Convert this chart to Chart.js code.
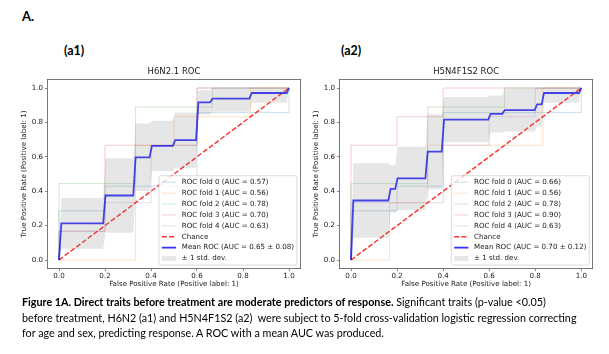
<!DOCTYPE html>
<html><head><meta charset="utf-8">
<script src="https://cdn.jsdelivr.net/npm/chart.js@4/dist/chart.umd.min.js"></script>
<style>
html,body{margin:0;padding:0;background:#fff;}
body{width:609px;height:354px;position:relative;overflow:hidden;font-family:Lato,'Open Sans',sans-serif;color:#000;}
.lbl{position:absolute;white-space:nowrap;font-weight:bold;line-height:1;}
.cap{position:absolute;left:22px;white-space:nowrap;line-height:1.2;font-size:10px;}
canvas{position:absolute;top:0;}
#c1{left:0;}
#c2{left:304px;}
</style></head><body>
<div class="lbl" style="left:22px;top:10px;font-size:13px">A.</div>
<div class="lbl" style="left:64px;top:45px;font-size:12.5px">(a1)</div>
<div class="lbl" style="left:341px;top:45px;font-size:12.5px">(a2)</div>
<canvas id="c1" width="304" height="300"></canvas>
<canvas id="c2" width="305" height="300"></canvas>
<div id="cap1" class="cap"><b>Figure 1A. Direct traits before treatment are moderate predictors of response.</b> Significant traits (p-value &lt;0.05)</div>
<div id="cap2" class="cap">before treatment, H6N2 (a1) and H5N4F1S2 (a2)&nbsp; were subject to 5-fold cross-validation logistic regression correcting</div>
<div id="cap3" class="cap">for age and sex, predicting response. A ROC with a mean AUC was produced.</div>
<script>
// ---------------- DATA ----------------
const tickValues = [0, 0.2, 0.4, 0.6, 0.8, 1.0];
const chanceFpr = [0, 1];
const chanceTpr = [0, 1];

// Panel (a1) H6N2.1
const a1Title = 'H6N2.1 ROC';
const a1FoldAuc = [0.57, 0.56, 0.78, 0.70, 0.63];
const a1Fold0Fpr = [0, 0, 0.2, 0.2, 0.6, 0.6, 1, 1];
const a1Fold0Tpr = [0, 0.286, 0.286, 0.429, 0.429, 0.857, 0.857, 1];
const a1Fold1Fpr = [0, 0.333, 0.333, 0.5, 0.5, 0.833, 0.833, 1];
const a1Fold1Tpr = [0, 0, 0.667, 0.667, 0.833, 0.833, 1, 1];
const a1Fold2Fpr = [0, 0, 0.333, 0.333, 0.667, 0.667, 1];
const a1Fold2Tpr = [0, 0.444, 0.444, 0.889, 0.889, 1, 1];
const a1Fold3Fpr = [0, 0, 0.2, 0.2, 0.6, 0.6, 1];
const a1Fold3Tpr = [0, 0.167, 0.167, 0.667, 0.667, 1, 1];
const a1Fold4Fpr = [0, 0, 0.2, 0.2, 0.4, 0.4, 0.6, 0.6, 1];
const a1Fold4Tpr = [0, 0.167, 0.167, 0.333, 0.333, 0.667, 0.667, 1, 1];
const a1MeanFpr = [0, 0.0101, 0.192, 0.202, 0.323, 0.333, 0.394, 0.404, 0.495, 0.505, 0.596, 0.606, 0.657, 0.667, 0.828, 0.838, 0.99, 1];
const a1MeanTpr = [0, 0.213, 0.213, 0.375, 0.375, 0.597, 0.597, 0.664, 0.664, 0.697, 0.697, 0.916, 0.916, 0.938, 0.938, 0.971, 0.971, 1];
const a1StdUpper = [0, 0.360, 0.360, 0.592, 0.592, 0.793, 0.793, 0.809, 0.809, 0.858, 0.858, 0.987, 0.987, 1, 1, 1, 1, 1];
const a1StdLower = [0, 0.066, 0.066, 0.158, 0.158, 0.401, 0.401, 0.518, 0.518, 0.536, 0.536, 0.845, 0.845, 0.862, 0.862, 0.914, 0.914, 1];
const a1MeanAuc = '0.65';
const a1StdAuc = '0.08';

// Panel (a2) H5N4F1S2
const a2Title = 'H5N4F1S2 ROC';
const a2FoldAuc = [0.66, 0.56, 0.78, 0.90, 0.63];
const a2Fold0Fpr = [0, 0, 0.2, 0.2, 0.4, 0.4, 1, 1];
const a2Fold0Tpr = [0, 0.286, 0.286, 0.429, 0.429, 0.857, 0.857, 1];
const a2Fold1Fpr = [0, 0.167, 0.167, 0.333, 0.333, 0.833, 0.833, 1];
const a2Fold1Tpr = [0, 0, 0.333, 0.333, 0.667, 0.667, 1, 1];
const a2Fold2Fpr = [0, 0, 0.333, 0.333, 0.667, 0.667, 1];
const a2Fold2Tpr = [0, 0.444, 0.444, 0.889, 0.889, 1, 1];
const a2Fold3Fpr = [0, 0, 0.2, 0.2, 0.4, 0.4, 1];
const a2Fold3Tpr = [0, 0.667, 0.667, 0.833, 0.833, 1, 1];
const a2Fold4Fpr = [0, 0, 0.4, 0.4, 0.6, 0.6, 0.8, 0.8, 1];
const a2Fold4Tpr = [0, 0.333, 0.333, 0.667, 0.667, 0.833, 0.833, 1, 1];
const a2MeanFpr = [0, 0.0101, 0.162, 0.172, 0.192, 0.202, 0.323, 0.333, 0.394, 0.404, 0.596, 0.606, 0.657, 0.667, 0.798, 0.808, 0.828, 0.838, 0.99, 1];
const a2MeanTpr = [0, 0.346, 0.346, 0.413, 0.413, 0.474, 0.474, 0.630, 0.630, 0.816, 0.816, 0.849, 0.849, 0.871, 0.871, 0.905, 0.905, 0.971, 0.971, 1];
const a2StdUpper = [0, 0.563, 0.563, 0.550, 0.550, 0.659, 0.659, 0.848, 0.848, 0.947, 0.947, 0.957, 0.957, 0.995, 0.995, 1, 1, 1, 1, 1];
const a2StdLower = [0, 0.129, 0.129, 0.276, 0.276, 0.289, 0.289, 0.412, 0.412, 0.685, 0.685, 0.742, 0.742, 0.747, 0.747, 0.774, 0.774, 0.914, 0.914, 1];
const a2MeanAuc = '0.70';
const a2StdAuc = '0.12';

// ---------------- RENDER ----------------
const FONT = 'DejaVu Sans';
const FS = 7.1;
const TEXT = '#1a1a1a';
const SPINE = '#555';
const foldColors = ['rgba(31,119,180,0.3)','rgba(255,127,14,0.3)','rgba(44,160,44,0.3)','rgba(214,39,40,0.3)','rgba(148,103,189,0.3)'];

function pts(xs, ys) { return xs.map((x, i) => ({x: x, y: ys[i]})); }

const mplLegend = {
  id: 'mplLegend',
  afterDraw(chart) {
    const ctx = chart.ctx, ca = chart.chartArea;
    const items = chart.data.datasets.filter(d => d.legendOrder != null).sort((a, b) => a.legendOrder - b.legendOrder);
    ctx.save();
    ctx.font = FS + 'px "' + FONT + '"';
    let tw = 0;
    items.forEach(it => { tw = Math.max(tw, ctx.measureText(it.label).width); });
    const pad = 0.4 * FS, hl = 2 * FS, htp = 0.8 * FS, pitch = 10.9;
    const w = pad + hl + htp + tw + pad;
    const h = 2 * pad + items.length * pitch - 0.5 * FS;
    const right = ca.right - 0.5 * FS, bottom = ca.bottom - 0.5 * FS;
    const left = right - w, top = bottom - h;
    ctx.beginPath();
    if (ctx.roundRect) ctx.roundRect(left, top, w, h, 1.5); else ctx.rect(left, top, w, h);
    ctx.fillStyle = 'rgba(255,255,255,0.8)';
    ctx.fill();
    ctx.lineWidth = 0.7;
    ctx.strokeStyle = '#cccccc';
    ctx.stroke();
    items.forEach((it, i) => {
      const cy = top + pad + (pitch - 0.5 * FS) / 2 + i * pitch;
      const hx = left + pad;
      if (it.legendKind === 'patch') {
        ctx.fillStyle = it.backgroundColor;
        ctx.fillRect(hx, cy - 0.35 * FS, hl, 0.7 * FS);
      } else {
        ctx.beginPath();
        ctx.setLineDash(it.borderDash || []);
        ctx.lineWidth = it.borderWidth;
        ctx.strokeStyle = it.borderColor;
        ctx.moveTo(hx, cy); ctx.lineTo(hx + hl, cy);
        ctx.stroke();
        ctx.setLineDash([]);
      }
      ctx.fillStyle = TEXT;
      ctx.textBaseline = 'middle';
      ctx.textAlign = 'left';
      ctx.fillText(it.label, hx + hl + htp, cy);
    });
    ctx.restore();
  }
};

function makeChart(id, p, g) {
  const ds = [];
  ds.push({label: 'upper', data: pts(p.meanFpr, p.upper), borderWidth: 0, borderColor: 'rgba(0,0,0,0)', pointRadius: 0, fill: false});
  ds.push({label: '\u00b1 1 std. dev.', data: pts(p.meanFpr, p.lower), borderWidth: 0, borderColor: 'rgba(0,0,0,0)', backgroundColor: 'rgba(128,128,128,0.2)', pointRadius: 0, fill: '-1', legendOrder: 7, legendKind: 'patch'});
  ds.push({label: 'Mean ROC (AUC = ' + p.meanAuc + ' \u00b1 ' + p.stdAuc + ')', data: pts(p.meanFpr, p.meanTpr), borderColor: 'rgba(0,0,255,0.8)', borderWidth: 1.8, pointRadius: 0, fill: false, legendOrder: 6});
  ds.push({label: 'Chance', data: pts(chanceFpr, chanceTpr), borderColor: 'rgba(255,0,0,0.8)', borderWidth: 1.5, borderDash: [5, 2.2], pointRadius: 0, fill: false, legendOrder: 5});
  for (let i = p.folds.length - 1; i >= 0; i--) {
    ds.push({label: 'ROC fold ' + i + ' (AUC = ' + p.foldAuc[i].toFixed(2) + ')', data: pts(p.folds[i][0], p.folds[i][1]), borderColor: foldColors[i], borderWidth: 0.8, pointRadius: 0, fill: false, legendOrder: i});
  }
  const tickFont = {family: FONT, size: FS, lineHeight: 1.2};
  const setTicks = s => { s.ticks = tickValues.map(v => ({value: v})); };
  return new Chart(document.getElementById(id), {
    type: 'line',
    data: {datasets: ds},
    plugins: [mplLegend],
    options: {
      responsive: false, maintainAspectRatio: false, animation: false, devicePixelRatio: 1, events: [],
      layout: {padding: 0},
      plugins: {legend: {display: false}, tooltip: {enabled: false}, title: {display: false}},
      elements: {line: {tension: 0}},
      scales: {
        x: {type: 'linear', position: 'bottom', min: -0.05, max: 1.05,
          afterBuildTicks: setTicks, afterFit: s => { s.height = g.xH; },
          ticks: {font: tickFont, color: TEXT, padding: 1, maxRotation: 0, autoSkip: false, callback: v => Number(v).toFixed(1)},
          grid: {display: true, drawOnChartArea: false, drawTicks: true, tickLength: 2.5, color: SPINE, lineWidth: 0.7},
          border: {display: true, color: SPINE, width: 0.8},
          title: {display: true, text: 'False Positive Rate (Positive label: 1)', font: {family: FONT, size: FS, lineHeight: 1.2}, color: TEXT, padding: {top: 0, bottom: g.xTitlePad}}},
        xTop: {type: 'linear', position: 'top', min: -0.05, max: 1.05,
          afterFit: s => { s.height = g.topH; },
          ticks: {display: false}, grid: {display: false},
          border: {display: true, color: SPINE, width: 0.8},
          title: {display: true, text: p.title, font: {family: FONT, size: 8.5, lineHeight: 1.2}, color: TEXT, padding: {top: g.titlePad, bottom: 0}}},
        y: {type: 'linear', position: 'left', min: -0.05, max: 1.05,
          afterBuildTicks: setTicks, afterFit: s => { s.width = g.yW; },
          ticks: {font: tickFont, color: TEXT, padding: 2, autoSkip: false, callback: v => Number(v).toFixed(1)},
          grid: {display: true, drawOnChartArea: false, drawTicks: true, tickLength: 2.5, color: SPINE, lineWidth: 0.7},
          border: {display: true, color: SPINE, width: 0.8},
          title: {display: true, text: 'True Positive Rate (Positive label: 1)', font: {family: FONT, size: FS, lineHeight: 1.2}, color: TEXT, padding: {top: g.yTitlePad, bottom: 0}}},
        yRight: {type: 'linear', position: 'right', min: -0.05, max: 1.05,
          afterFit: s => { s.width = g.rW; },
          ticks: {display: false}, grid: {display: false},
          border: {display: true, color: SPINE, width: 0.8}}
      }
    }
  });
}

makeChart('c1', {
  title: a1Title, foldAuc: a1FoldAuc,
  folds: [[a1Fold0Fpr, a1Fold0Tpr], [a1Fold1Fpr, a1Fold1Tpr], [a1Fold2Fpr, a1Fold2Tpr], [a1Fold3Fpr, a1Fold3Tpr], [a1Fold4Fpr, a1Fold4Tpr]],
  meanFpr: a1MeanFpr, meanTpr: a1MeanTpr, upper: a1StdUpper, lower: a1StdLower, meanAuc: a1MeanAuc, stdAuc: a1StdAuc
}, {xH: 31.4, topH: 79.4, yW: 47.5, rW: 3.5, xTitlePad: 11.2, titlePad: 66.9, yTitlePad: 20.2});

makeChart('c2', {
  title: a2Title, foldAuc: a2FoldAuc,
  folds: [[a2Fold0Fpr, a2Fold0Tpr], [a2Fold1Fpr, a2Fold1Tpr], [a2Fold2Fpr, a2Fold2Tpr], [a2Fold3Fpr, a2Fold3Tpr], [a2Fold4Fpr, a2Fold4Tpr]],
  meanFpr: a2MeanFpr, meanTpr: a2MeanTpr, upper: a2StdUpper, lower: a2StdLower, meanAuc: a2MeanAuc, stdAuc: a2StdAuc
}, {xH: 31.4, topH: 79.4, yW: 35.5, rW: 16.2, xTitlePad: 11.2, titlePad: 66.9, yTitlePad: 8.2});

// caption sizing
(function () {
  const c2 = document.getElementById('cap2');
  const w = c2.getBoundingClientRect().width;
  const fs = 10 * 555 / w;
  const centers = [302, 318, 333.5];
  ['cap1', 'cap2', 'cap3'].forEach((id, i) => {
    const el = document.getElementById(id);
    el.style.fontSize = fs + 'px';
    el.style.top = (centers[i] - fs * 0.6) + 'px';
  });
})();
</script>
</body></html>
